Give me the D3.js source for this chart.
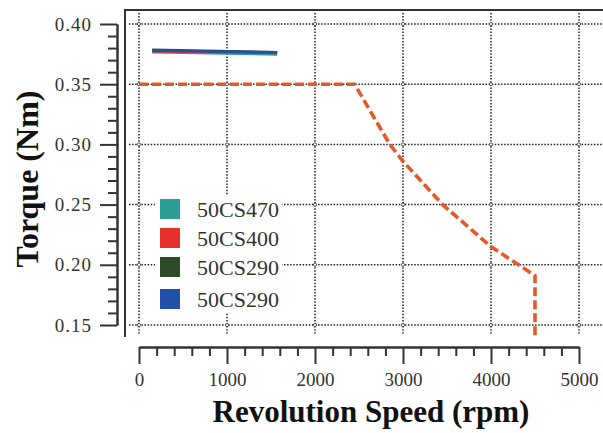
<!DOCTYPE html>
<html lang="en">
<head>
  <meta charset="UTF-8">
  <title>Torque vs Revolution Speed</title>
  <script src="https://cdn.jsdelivr.net/npm/d3@7"></script>
  <style>
    body { margin: 0; background: #fff; }
    .axis path, .axis line { stroke: #333; stroke-width: 2; }
  </style>
</head>
<body>
<div class="chart"></div>
<script>
  // speed-torque envelope (dashed)
  const limitSpeed = [0, 2450, 2850, 3000, 3450, 4000, 4500, 4500];
  const limitTorque = [0.35, 0.35, 0.30, 0.286, 0.25, 0.215, 0.191, 0.14];

  // measured torque of each motor (short lines at top)
  const series = ['50CS470', '50CS400', '50CS290', '50CS290'];
  const seriesColor = ['#2a9d94', '#e8302a', '#2f4a2a', '#2350a8'];
  const seriesSpeed = [150, 1570];
  const seriesTorque = [
    [0.3765, 0.3748],
    [0.3775, 0.3760],
    [0.3785, 0.3765],
    [0.3780, 0.3765]
  ];

  const xTicks = [0, 1000, 2000, 3000, 4000, 5000];
  const yTicks = [0.15, 0.20, 0.25, 0.30, 0.35, 0.40];

  const W = 603, H = 433;
  const serif = "'Liberation Serif', 'Times New Roman', serif";
  const x = d3.scaleLinear().domain([0, 5000]).range([139, 579]);
  const y = d3.scaleLinear().domain([0.15, 0.40]).range([325, 24]);

  const svg = d3.select('.chart').append('svg')
    .attr('width', W).attr('height', H);

  // grid
  const grid = svg.append('g')
    .attr('stroke', '#222').attr('stroke-width', 1.5).attr('stroke-dasharray', '1.5,1.6');
  grid.selectAll('.gy').data(yTicks).enter().append('line')
    .attr('x1', 129).attr('x2', W)
    .attr('y1', d => y(d)).attr('y2', d => y(d));
  grid.selectAll('.gx').data(xTicks).enter().append('line')
    .attr('x1', d => x(d)).attr('x2', d => x(d))
    .attr('y1', 13).attr('y2', 335);

  // little rings where grid lines cross
  const cross = [];
  xTicks.forEach(a => yTicks.forEach(b => cross.push([a, b])));
  svg.append('g').selectAll('circle').data(cross).enter().append('circle')
    .attr('cx', d => x(d[0])).attr('cy', d => y(d[1])).attr('r', 1.6)
    .attr('fill', '#fff').attr('stroke', '#333').attr('stroke-width', 0.8);

  // frame (left + top)
  svg.append('path')
    .attr('d', `M125,337 V10 H${W}`)
    .attr('fill', 'none').attr('stroke', '#333').attr('stroke-width', 2);

  // y axis
  const yMinor = d3.range(15, 41).map(d => d / 100).filter(d => !yTicks.some(t => Math.abs(t - d) < 1e-6));
  svg.append('g').attr('class', 'axis').attr('transform', 'translate(117,0)')
    .call(d3.axisLeft(y).tickValues(yMinor).tickSize(9).tickSizeOuter(0).tickFormat(''));
  svg.append('g').attr('class', 'axis').attr('transform', 'translate(117,0)')
    .call(d3.axisLeft(y).tickValues(yTicks).tickSize(17).tickSizeOuter(0).tickPadding(8).tickFormat(d3.format('.2f')))
    .selectAll('text')
    .style('font-family', serif).style('font-size', '19px').style('letter-spacing', '1px').attr('fill', '#333');

  // x axis
  const xMinor = d3.range(0, 5001, 200).filter(d => d % 1000 !== 0);
  svg.append('g').attr('class', 'axis').attr('transform', 'translate(0,347)')
    .call(d3.axisBottom(x).tickValues(xMinor).tickSize(9).tickSizeOuter(0).tickFormat(''));
  svg.append('g').attr('class', 'axis').attr('transform', 'translate(0,347)')
    .call(d3.axisBottom(x).tickValues(xTicks).tickSize(17).tickSizeOuter(0).tickPadding(9).tickFormat(d3.format('d')))
    .selectAll('text')
    .style('font-family', serif).style('font-size', '19px').attr('fill', '#333');

  // envelope
  const line = d3.line().x(d => x(d[0])).y(d => y(d[1]));
  svg.append('path')
    .datum(limitSpeed.map((s, i) => [s, limitTorque[i]]))
    .attr('d', line)
    .attr('fill', 'none').attr('stroke', '#e2592a').attr('stroke-width', 3.6)
    .attr('stroke-dasharray', '9,4');

  // measured lines
  svg.append('g').selectAll('path').data(seriesTorque).enter().append('path')
    .attr('d', d => line(seriesSpeed.map((s, i) => [s, d[i]])))
    .attr('fill', 'none')
    .attr('stroke', (d, i) => seriesColor[i])
    .attr('stroke-width', 2.6);

  // legend
  svg.append('rect').attr('x', 155).attr('y', 195).attr('width', 127).attr('height', 118).attr('fill', '#fff');
  const rowY = [199, 228, 257, 289];
  const lg = svg.append('g').selectAll('g').data(series).enter().append('g')
    .attr('transform', (d, i) => `translate(160,${rowY[i]})`);
  lg.append('rect').attr('width', 20).attr('height', 20).attr('fill', (d, i) => seriesColor[i]);
  lg.append('text').attr('x', 37).attr('y', 18)
    .style('font-family', serif).style('font-size', '22px').attr('fill', '#333').text(d => d);

  // titles
  svg.append('text')
    .attr('transform', 'translate(38,179) rotate(-90)')
    .attr('text-anchor', 'middle')
    .style('font-family', serif).style('font-size', '32px').style('font-weight', 'bold').attr('fill', '#111')
    .text('Torque (Nm)');
  svg.append('text')
    .attr('x', 371).attr('y', 422)
    .attr('text-anchor', 'middle')
    .style('font-family', serif).style('font-size', '31px').style('font-weight', 'bold').attr('fill', '#111')
    .text('Revolution Speed (rpm)');
</script>
</body>
</html>
